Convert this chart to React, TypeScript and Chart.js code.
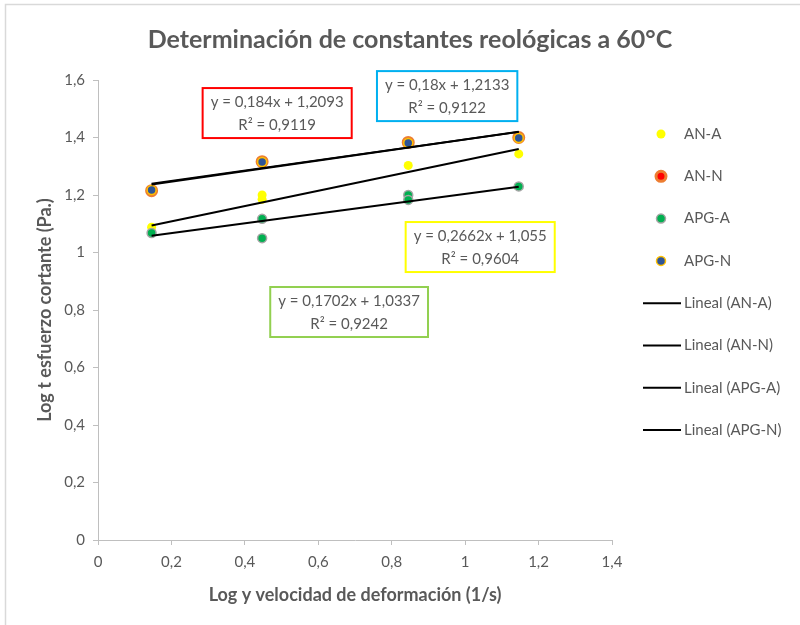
import { useEffect, useRef } from "react";
import { Chart, registerables } from "chart.js";

Chart.register(...registerables);

// Measured points: x = log shear rate, y = log shear stress
const anAX = [0.146, 0.447, 0.447, 0.845, 1.146];
const anAY = [1.088, 1.2, 1.185, 1.303, 1.343];

const anNX = [0.146, 0.447, 0.845, 1.146];
const anNY = [1.215, 1.316, 1.383, 1.4];

const apgAX = [0.146, 0.447, 0.447, 0.845, 0.845, 1.146];
const apgAY = [1.068, 1.117, 1.05, 1.2, 1.183, 1.23];

const apgNX = [0.146, 0.447, 0.845, 1.146];
const apgNY = [1.217, 1.315, 1.381, 1.398];

// Linear fits (Excel trendlines)
const trendNames = ["AN-A", "AN-N", "APG-A", "APG-N"];
const trendSlope = [0.2662, 0.184, 0.1702, 0.18];
const trendIntercept = [1.055, 1.2093, 1.0337, 1.2133];
const trendR2 = [0.9604, 0.9119, 0.9242, 0.9122];

const xTicks = [0, 0.2, 0.4, 0.6, 0.8, 1, 1.2, 1.4];
const yTicks = [0, 0.2, 0.4, 0.6, 0.8, 1, 1.2, 1.4, 1.6];

const TITLE = "Determinación de constantes reológicas a 60°C";
const X_TITLE = "Log y velocidad de deformación (1/s)";
const Y_TITLE = "Log t esfuerzo cortante (Pa.)";

const FONT = "Lato, 'Open Sans', sans-serif";
const GREY = "#595959";

// Marker styles per series
const markerStyle = {
  "AN-A": { fill: "#FFFF00", stroke: "#FFFF00", r: 4.5, bw: 0 },
  "AN-N": { fill: "#FF0000", stroke: "#ED7D31", r: 5, bw: 3 },
  "APG-A": { fill: "#00B050", stroke: "#A5A5A5", r: 4.5, bw: 1.5 },
  "APG-N": { fill: "#2F5597", stroke: "#FFC000", r: 4.5, bw: 1.5 },
};

// Equation boxes: border colour and centre in axis units
const boxStyle = [
  { color: "#FFFF00", cx: 1.041, cy: 1.019 },
  { color: "#FF0000", cx: 0.488, cy: 1.485 },
  { color: "#92D050", cx: 0.684, cy: 0.793 },
  { color: "#00B0F0", cx: 0.951, cy: 1.544 },
];

const comma = (v: number) => String(v).replace(".", ",");
const tickFmt = (v: number | string) => comma(Math.round(Number(v) * 10) / 10);

const zip = (xs: number[], ys: number[]) => xs.map((x, i) => ({ x, y: ys[i] }));

function trendPoints(i: number, xs: number[]) {
  const lo = Math.min(...xs);
  const hi = Math.max(...xs);
  return [lo, hi].map((x) => ({ x, y: trendSlope[i] * x + trendIntercept[i] }));
}

const seriesX = [anAX, anNX, apgAX, apgNX];

const decorPlugin = {
  id: "decor",
  beforeDraw(chart: any) {
    const ctx = chart.ctx;
    ctx.save();
    ctx.strokeStyle = "#D9D9D9";
    ctx.lineWidth = 1.5;
    ctx.beginPath();
    ctx.moveTo(5.5, 625);
    ctx.lineTo(5.5, 4.5);
    ctx.lineTo(800, 4.5);
    ctx.stroke();
    ctx.restore();
  },
  afterDraw(chart: any) {
    const ctx = chart.ctx;
    const xs = chart.scales.x;
    const ys = chart.scales.y;
    const area = chart.chartArea;
    ctx.save();
    ctx.fillStyle = GREY;
    ctx.textAlign = "center";
    ctx.textBaseline = "middle";

    // Title
    ctx.font = `bold 25px ${FONT}`;
    ctx.fillText(TITLE, 410, 40);

    // Axis titles
    ctx.font = `bold 18px ${FONT}`;
    ctx.fillText(X_TITLE, (area.left + area.right) / 2, 595);
    ctx.save();
    ctx.translate(45, (area.top + area.bottom) / 2);
    ctx.rotate(-Math.PI / 2);
    ctx.fillText(Y_TITLE, 0, 0);
    ctx.restore();

    // Equation boxes
    ctx.font = `15px ${FONT}`;
    trendNames.forEach((_, i) => {
      const l1 = `y = ${comma(trendSlope[i])}x + ${comma(trendIntercept[i])}`;
      const l2 = `R² = ${comma(trendR2[i])}`;
      const b = boxStyle[i];
      const cx = xs.getPixelForValue(b.cx);
      const cy = ys.getPixelForValue(b.cy);
      const w = Math.max(ctx.measureText(l1).width, ctx.measureText(l2).width) + 16;
      const h = 50;
      ctx.fillStyle = "#FFFFFF";
      ctx.fillRect(cx - w / 2, cy - h / 2, w, h);
      ctx.strokeStyle = b.color;
      ctx.lineWidth = 2;
      ctx.strokeRect(cx - w / 2, cy - h / 2, w, h);
      ctx.fillStyle = GREY;
      ctx.fillText(l1, cx, cy - 11);
      ctx.fillText(l2, cx, cy + 12);
    });

    // Legend
    const legendY0 = 134;
    const legendStep = 42.3;
    ctx.textAlign = "left";
    ctx.font = `15px ${FONT}`;
    trendNames.forEach((name, i) => {
      const y = legendY0 + i * legendStep;
      const m = (markerStyle as any)[name];
      ctx.beginPath();
      ctx.arc(661, y, m.r, 0, Math.PI * 2);
      ctx.fillStyle = m.fill;
      ctx.fill();
      if (m.bw > 0) {
        ctx.lineWidth = m.bw;
        ctx.strokeStyle = m.stroke;
        ctx.stroke();
      }
      ctx.fillStyle = GREY;
      ctx.fillText(name, 684, y);
    });
    trendNames.forEach((name, i) => {
      const y = legendY0 + (i + 4) * legendStep;
      ctx.beginPath();
      ctx.moveTo(643, y);
      ctx.lineTo(681, y);
      ctx.strokeStyle = "#000000";
      ctx.lineWidth = 2;
      ctx.stroke();
      ctx.fillStyle = GREY;
      ctx.fillText(`Lineal (${name})`, 684, y);
    });
    ctx.restore();
  },
};

function pointDataset(name: string, xs: number[], ys: number[], order: number) {
  const m = (markerStyle as any)[name];
  return {
    label: name,
    data: zip(xs, ys),
    showLine: false,
    pointRadius: m.r,
    pointBackgroundColor: m.fill,
    pointBorderColor: m.stroke,
    pointBorderWidth: m.bw,
    order,
  };
}

export default function App() {
  const ref = useRef<HTMLCanvasElement | null>(null);

  useEffect(() => {
    if (!ref.current) return;
    const trendDatasets = trendNames.map((name, i) => ({
      label: `Lineal (${name})`,
      data: trendPoints(i, seriesX[i]),
      showLine: true,
      borderColor: "#000000",
      borderWidth: 2,
      pointRadius: 0,
      order: 0,
    }));
    const chart = new Chart(ref.current, {
      type: "scatter",
      data: {
        datasets: [
          pointDataset("AN-A", anAX, anAY, 4),
          pointDataset("AN-N", anNX, anNY, 2),
          pointDataset("APG-A", apgAX, apgAY, 3),
          pointDataset("APG-N", apgNX, apgNY, 1),
          ...trendDatasets,
        ] as any,
      },
      options: {
        responsive: false,
        animation: false,
        layout: { padding: { top: 80, right: 188, left: 0, bottom: 0 } },
        plugins: {
          legend: { display: false },
          tooltip: { enabled: false },
          title: { display: false },
        },
        scales: {
          x: {
            type: "linear",
            min: xTicks[0],
            max: xTicks[xTicks.length - 1],
            afterBuildTicks: (s: any) => {
              s.ticks = xTicks.map((v) => ({ value: v }));
            },
            afterFit: (s: any) => {
              s.height = 85;
            },
            ticks: {
              callback: tickFmt,
              color: GREY,
              font: { family: FONT, size: 15 },
              padding: 8,
              maxRotation: 0,
            },
            grid: {
              drawOnChartArea: false,
              drawTicks: true,
              tickLength: 5,
              tickColor: "#BFBFBF",
            },
            border: { color: "#BFBFBF", width: 1 },
          },
          y: {
            type: "linear",
            min: yTicks[0],
            max: yTicks[yTicks.length - 1],
            afterBuildTicks: (s: any) => {
              s.ticks = yTicks.map((v) => ({ value: v }));
            },
            afterFit: (s: any) => {
              s.width = 98;
            },
            ticks: {
              callback: tickFmt,
              color: GREY,
              font: { family: FONT, size: 15 },
              padding: 8,
            },
            grid: {
              drawOnChartArea: false,
              drawTicks: true,
              tickLength: 5,
              tickColor: "#BFBFBF",
            },
            border: { color: "#BFBFBF", width: 1 },
          },
        },
      } as any,
      plugins: [decorPlugin],
    });
    return () => chart.destroy();
  }, []);

  return (
    <div style={{ position: "fixed", left: 0, top: 0, width: 800, height: 625, background: "#FFFFFF" }}>
      <canvas ref={ref} width={800} height={625} />
    </div>
  );
}
